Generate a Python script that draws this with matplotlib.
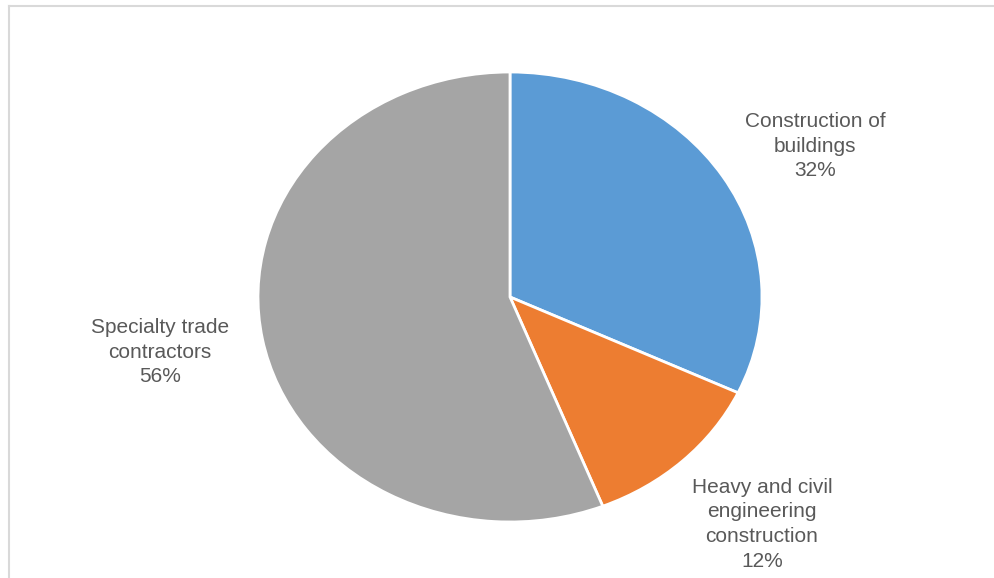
import matplotlib.pyplot as plt

# data
labels = ["Construction of\nbuildings", "Heavy and civil\nengineering\nconstruction", "Specialty trade\ncontractors"]
shares = [32, 12, 56]
colors = ["#5B9BD5", "#ED7D31", "#A5A5A5"]
label_pos = [(1.21, 0.67), (1.00, -1.01), (-1.39, -0.245)]

plt.rcParams['font.family'] = ['Liberation Sans', 'DejaVu Sans']

fig = plt.figure(figsize=(9.94, 5.78), dpi=100)
# the source image is stretched sideways, so the pie is an ellipse (504 x 450 px)
ax = fig.add_axes([258 / 994, 56 / 578, 504 / 994, 450 / 578])

wedges, _ = ax.pie(shares, colors=colors, startangle=90, counterclock=False,
                   radius=1, wedgeprops=dict(edgecolor="white", linewidth=2))
ax.set_xlim(-1, 1)
ax.set_ylim(-1, 1)
ax.set_aspect("auto")
ax.axis("off")

for lab, val, (x, y) in zip(labels, shares, label_pos):
    ax.text(x, y, f"{lab}\n{val}%", ha="center", va="center", fontsize=15,
            color="#595959", linespacing=1.37, clip_on=False)

# light border on top and left like the source image
fig.add_artist(plt.Line2D([9 / 994, 9 / 994], [0, 1 - 6 / 578], transform=fig.transFigure,
                          color="#d9d9d9", linewidth=1.5))
fig.add_artist(plt.Line2D([9 / 994, 1], [1 - 6 / 578, 1 - 6 / 578], transform=fig.transFigure,
                          color="#d9d9d9", linewidth=1.5))

fig.savefig("out.png", dpi=100)
